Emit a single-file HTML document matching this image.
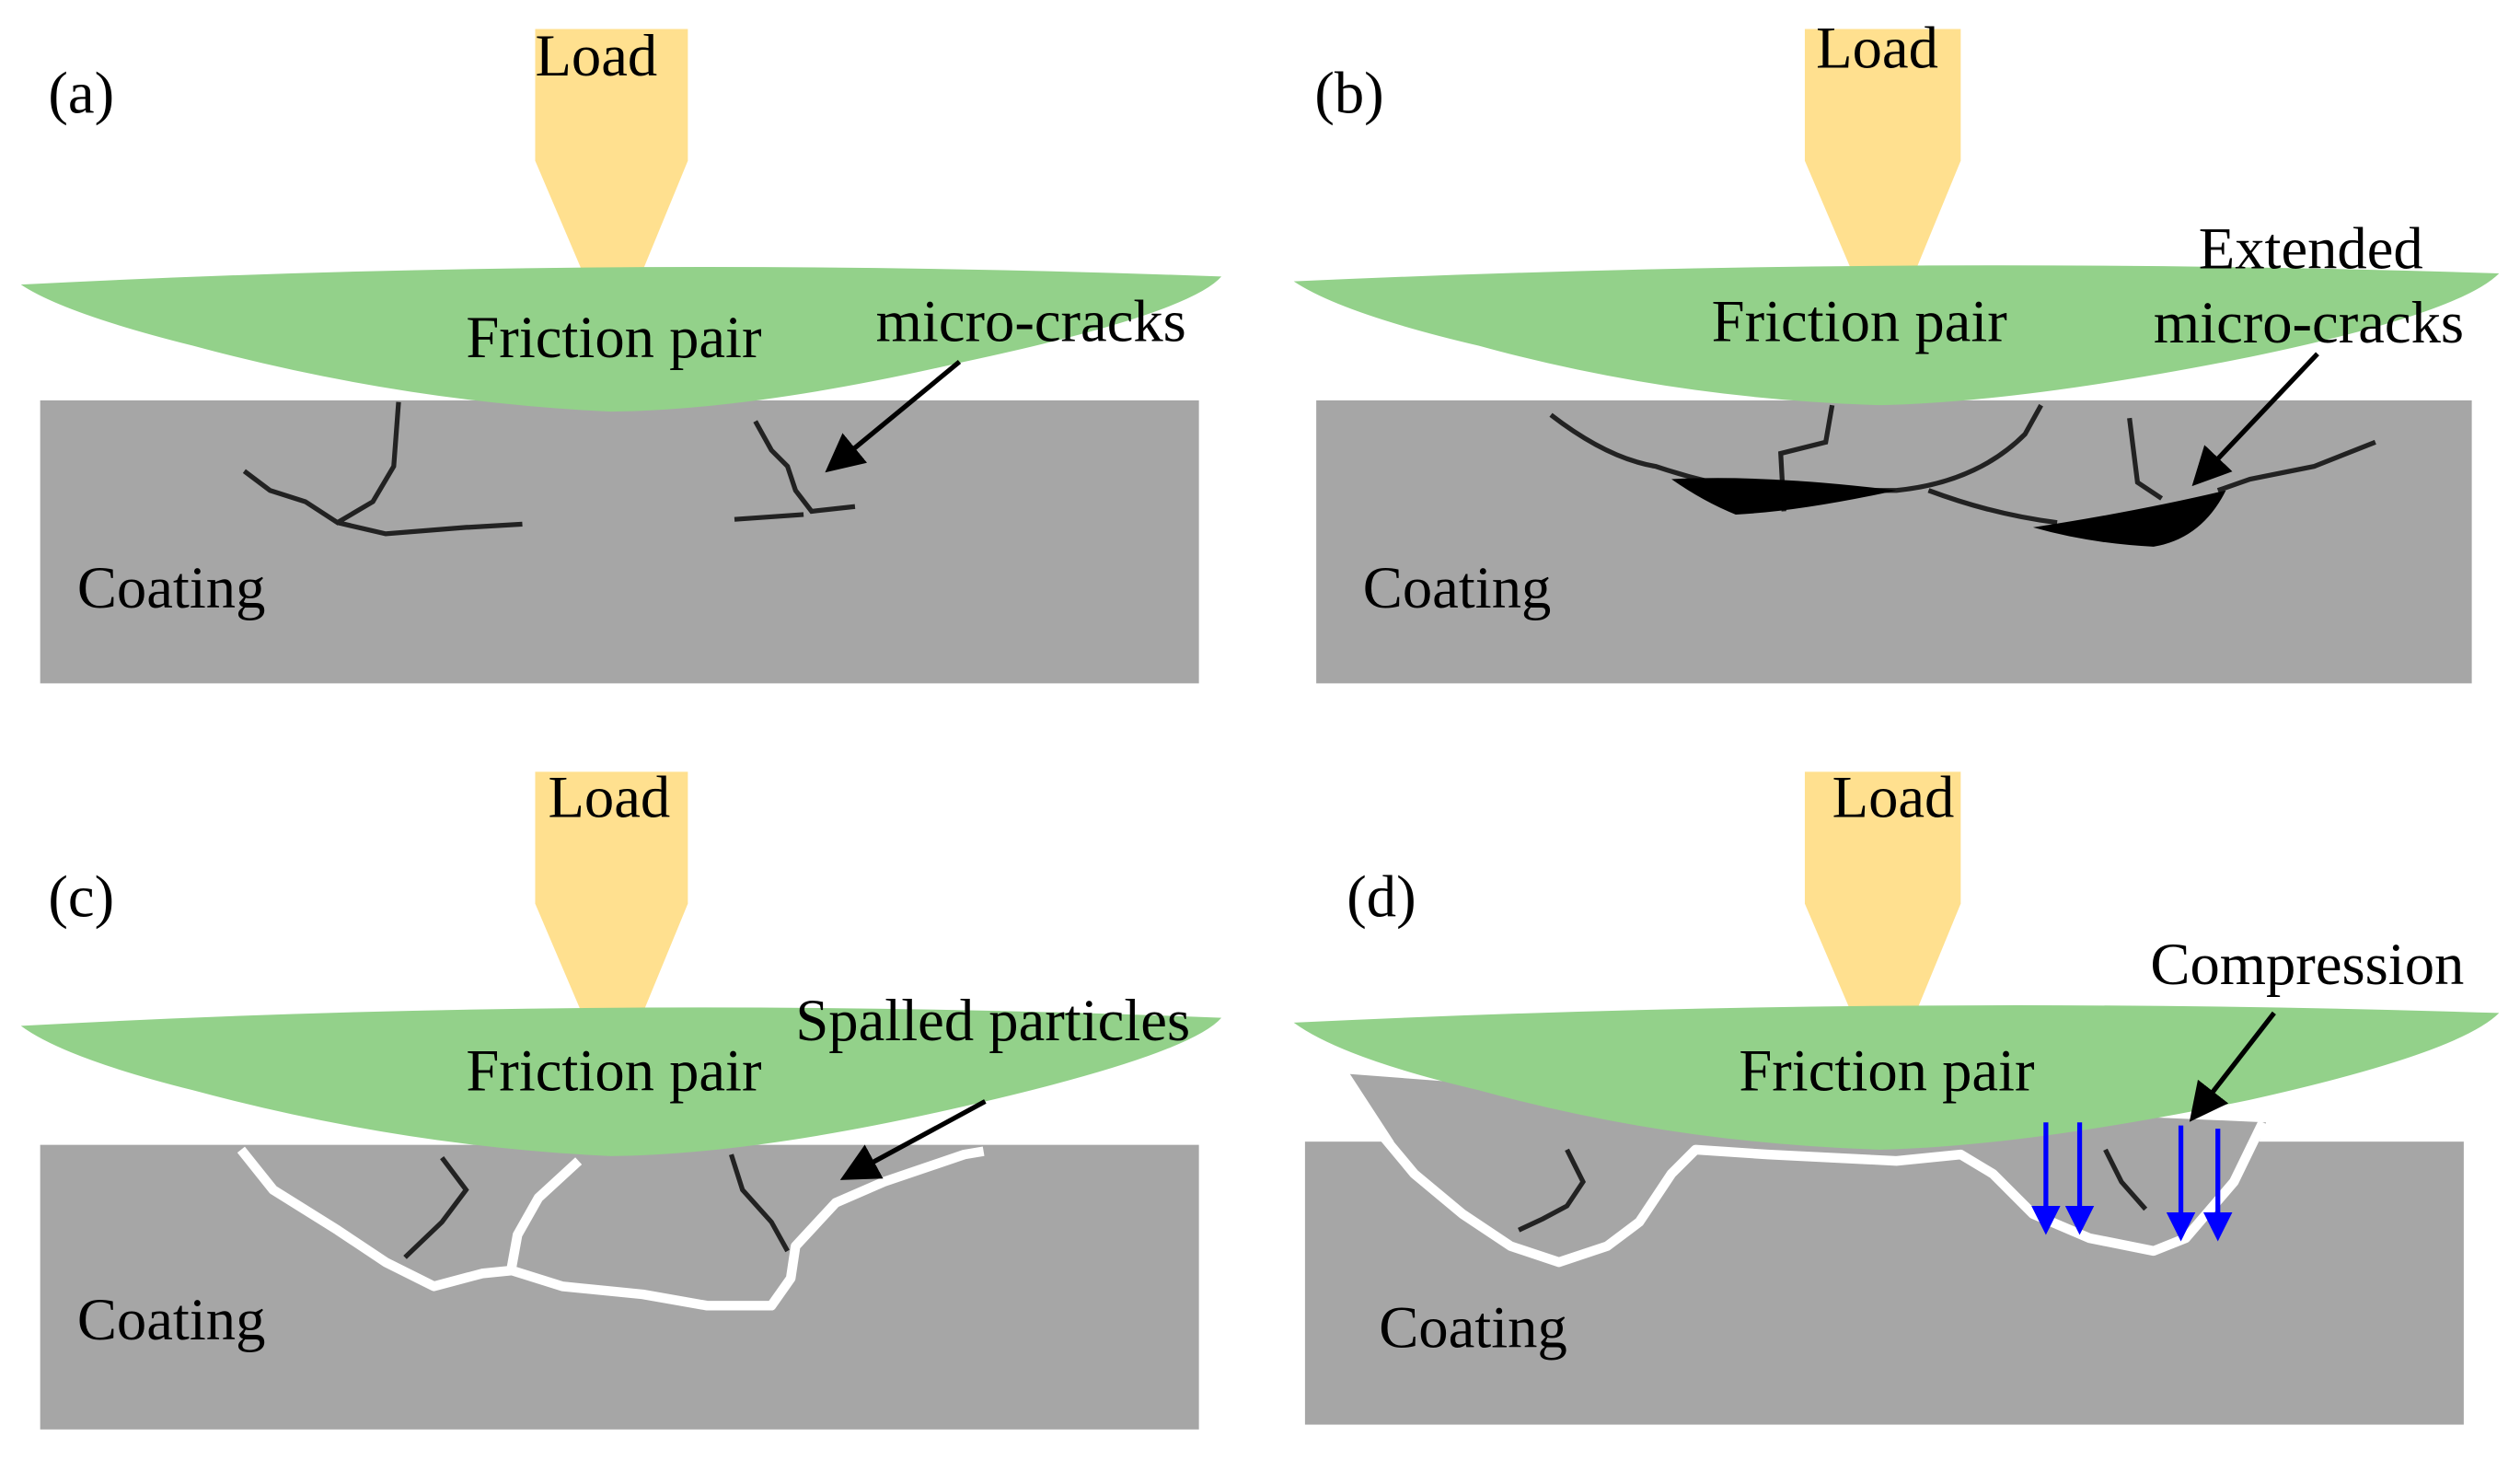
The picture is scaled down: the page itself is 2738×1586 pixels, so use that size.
<!DOCTYPE html>
<html><head><meta charset="utf-8"><style>
html,body{margin:0;padding:0;background:#fff;width:2738px;height:1586px;overflow:hidden}
svg{display:block}
text{font-family:"Liberation Serif",serif;font-size:37px;fill:#000}
</style></head><body>
<svg width="2738" height="1586" viewBox="0 0 1568 908" preserveAspectRatio="none" xmlns="http://www.w3.org/2000/svg">
<defs>
<marker id="ah" markerWidth="8" markerHeight="8" refX="6" refY="4" orient="auto" markerUnits="strokeWidth"><path d="M0,0 L8,4 L0,8 z" fill="#000"/></marker>
<marker id="bh" markerWidth="6" markerHeight="6" refX="4" refY="3" orient="auto" markerUnits="strokeWidth"><path d="M0,0 L6,3 L0,6 z" fill="#0000ff"/></marker>
</defs>
<!-- Panel a -->
<rect x="25" y="249" width="721" height="176" fill="#a6a6a6"/>
<path d="M333,18 H428 V100 L400,168 H362 L333,100 Z" fill="#ffe08f"/>
<path d="M13,177 Q380,158 760,172 Q740,195 600,225 Q470,255 380,256 Q250,250 120,215 Q40,195 13,177 Z" fill="#93d18a"/>
<g fill="none" stroke="#222" stroke-width="3">
<path d="M248,250 L245,290 L232,312 L210,325 L190,312 L168,305 L152,293"/>
<path d="M210,325 L240,332 L290,328 L325,326"/>
<path d="M470,262 L480,280 L490,290 L495,305 L505,318 L532,315"/>
<path d="M457,323 L500,320"/>
</g>
<line x1="597" y1="225" x2="518" y2="290" stroke="#000" stroke-width="3" marker-end="url(#ah)"/>
<text x="30" y="70">(a)</text>
<text x="333" y="47">Load</text>
<text x="290" y="222">Friction pair</text>
<text x="545" y="212">micro-cracks</text>
<text x="48" y="378">Coating</text>
<!-- Panel b -->
<rect x="819" y="249" width="719" height="176" fill="#a6a6a6"/>
<path d="M1123,18 H1220 V100 L1192,168 H1152 L1123,100 Z" fill="#ffe08f"/>
<path d="M805,175 Q1180,158 1555,170 Q1530,195 1400,222 Q1260,250 1170,252 Q1040,248 920,215 Q835,195 805,175 Z" fill="#93d18a"/>
<g fill="none" stroke="#222" stroke-width="3">
<path d="M965,258 Q1000,285 1030,290 Q1060,300 1090,305 L1180,305 Q1230,300 1260,270 L1270,252"/>
<path d="M1140,252 L1136,275 L1108,282 L1110,318"/>
<path d="M1200,305 Q1240,320 1280,325"/>
<path d="M1325,260 L1330,300 L1345,310"/>
<path d="M1380,305 L1400,298 L1440,290 L1478,275"/>
</g>
<path d="M1040,298 Q1100,295 1180,305 Q1120,318 1080,320 Q1060,312 1040,298 Z" fill="#000"/>
<path d="M1265,328 Q1330,318 1385,305 Q1370,335 1340,340 Q1300,338 1265,328 Z" fill="#000"/>
<line x1="1442" y1="220" x2="1368" y2="298" stroke="#000" stroke-width="3" marker-end="url(#ah)"/>
<text x="818" y="70">(b)</text>
<text x="1130" y="42">Load</text>
<text x="1065" y="212">Friction pair</text>
<text x="1368" y="167">Extended</text>
<text x="1340" y="213">micro-cracks</text>
<text x="848" y="378">Coating</text>
<!-- Panel c -->
<rect x="25" y="712" width="721" height="177" fill="#a6a6a6"/>
<path d="M333,480 H428 V562 L400,630 H362 L333,562 Z" fill="#ffe08f"/>
<path d="M13,638 Q380,618 760,633 Q740,656 600,688 Q470,718 380,719 Q250,713 120,678 Q40,658 13,638 Z" fill="#93d18a"/>
<g fill="none" stroke="#fff" stroke-width="6" stroke-linejoin="round">
<path d="M150,715 L170,740 L210,765 L240,785 L270,800 L300,792 L320,790"/>
<path d="M360,722 L335,745 L322,768 L318,790 L350,800 L400,805 L440,812 L480,812 L492,795 L495,775 L520,748 L550,735 L600,718 L612,716"/>
</g>
<g fill="none" stroke="#222" stroke-width="3">
<path d="M275,720 L290,740 L275,760 L252,782"/>
<path d="M455,718 L462,740 L480,760 L490,778"/>
</g>
<line x1="613" y1="685" x2="528" y2="731" stroke="#000" stroke-width="3" marker-end="url(#ah)"/>
<text x="30" y="570">(c)</text>
<text x="341" y="508">Load</text>
<text x="290" y="678">Friction pair</text>
<text x="495" y="647">Spalled particles</text>
<text x="48" y="833">Coating</text>
<!-- Panel d -->
<rect x="812" y="710" width="721" height="176" fill="#a6a6a6"/>
<path d="M840,668 L1000,680 L1410,698 L1380,780 L1340,790 L1280,775 L1220,760 L1050,745 L970,785 L900,760 Z" fill="#a6a6a6"/>
<path d="M1123,480 H1220 V562 L1192,630 H1152 L1123,562 Z" fill="#ffe08f"/>
<path d="M805,636 Q1180,618 1555,630 Q1530,655 1400,684 Q1260,713 1170,715 Q1040,711 920,678 Q835,658 805,636 Z" fill="#93d18a"/>
<g fill="none" stroke="#fff" stroke-width="6" stroke-linejoin="round">
<path d="M855,700 L880,730 L910,755 L940,775 L970,785 L1000,775 L1020,760 L1040,730 L1055,715 L1100,718 L1140,720 L1180,722 L1220,718 L1240,730 L1265,755 L1300,770 L1340,778 L1360,770 L1390,735 L1408,698"/>
</g>
<g fill="none" stroke="#222" stroke-width="3">
<path d="M975,715 L985,735 L975,750 L960,758 L945,765"/>
<path d="M1310,715 L1320,735 L1335,752"/>
</g>
<g stroke="#0000ff" stroke-width="3">
<line x1="1273" y1="698" x2="1273" y2="762" marker-end="url(#bh)"/>
<line x1="1294" y1="698" x2="1294" y2="762" marker-end="url(#bh)"/>
<line x1="1357" y1="700" x2="1357" y2="766" marker-end="url(#bh)"/>
<line x1="1380" y1="702" x2="1380" y2="766" marker-end="url(#bh)"/>
</g>
<line x1="1415" y1="630" x2="1366" y2="693" stroke="#000" stroke-width="3" marker-end="url(#ah)"/>
<text x="838" y="570">(d)</text>
<text x="1140" y="508">Load</text>
<text x="1082" y="678">Friction pair</text>
<text x="1338" y="612">Compression</text>
<text x="858" y="838">Coating</text>
</svg>
</body></html>
